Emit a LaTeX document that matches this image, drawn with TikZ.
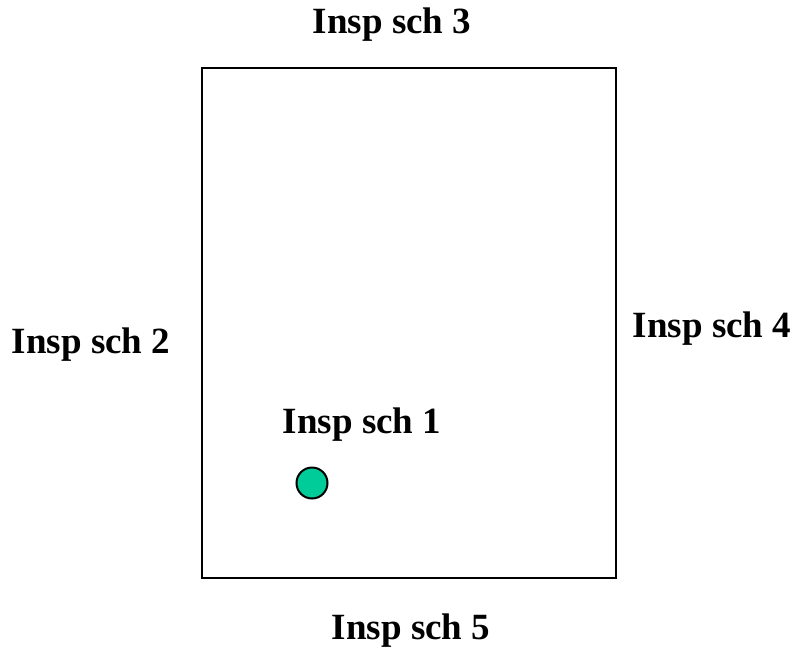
\documentclass[tikz,border=0pt]{standalone}
\usepackage{fontspec}
\setmainfont{Liberation Serif}
\begin{document}
\begin{tikzpicture}[x=1pt,y=-1pt,
  lbl/.style={font=\fontsize{37}{40}\selectfont\bfseries, anchor=base, inner sep=0pt},
  field/.style={draw=black, line width=2pt},
  chamber/.style={circle, draw=black, line width=2pt, fill={rgb,255:red,0;green,204;blue,153}, minimum size=31pt, inner sep=0pt}]
\useasboundingbox (0,0) rectangle (798,649);
\node[field, minimum width=414pt, minimum height=510pt, inner sep=0pt, anchor=north west] (plot) at (201,67) {};
\node[chamber] (c1) at (312,483) {};
\node[lbl] (t3) at (392,33) {Insp sch 3};
\node[lbl] (t2) at (91,353) {Insp sch 2};
\node[lbl] (t4) at (712,337) {Insp sch 4};
\node[lbl] (t1) at (362,433) {Insp sch 1};
\node[lbl] (t5) at (411,639) {Insp sch 5};
\end{tikzpicture}
\end{document}
